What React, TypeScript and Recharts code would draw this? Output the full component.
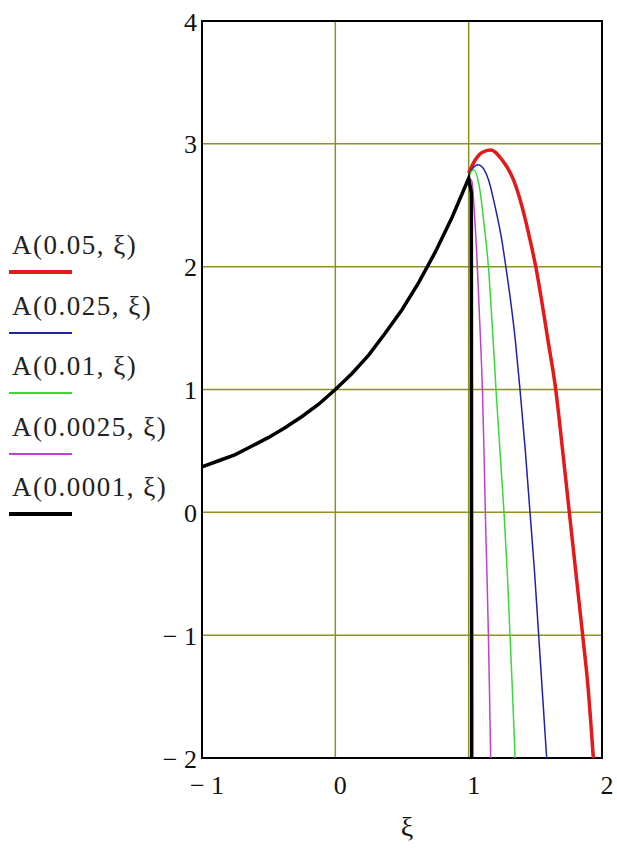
import React from "react";
import {
  LineChart,
  Line,
  XAxis,
  YAxis,
  CartesianGrid,
  ReferenceArea,
  Legend,
} from "recharts";

// Mathcad-style plot of A(eps, xi) for several eps values

const X_TICKS = [-1, 0, 1, 2];
const Y_TICKS = [-2, -1, 0, 1, 2, 3, 4];

// eps = 0.0001 (black) – exponential branch up to xi = 1, then a near-vertical drop
const XI_0001 = [
  -1, -0.875, -0.75, -0.625, -0.5, -0.375, -0.25, -0.125, 0, 0.125, 0.25, 0.375,
  0.5, 0.625, 0.75, 0.875, 1.0, 1.02, 1.023,
];
const A_0001 = [
  0.37, 0.42, 0.47, 0.54, 0.61, 0.69, 0.78, 0.88, 1.0, 1.13, 1.28, 1.46, 1.65,
  1.87, 2.12, 2.4, 2.72, 2.6, -2,
];

// eps = 0.05 (red)
const XI_05 = [
  1.0, 1.05, 1.1, 1.165, 1.25, 1.335, 1.4, 1.46, 1.505, 1.545, 1.595, 1.653,
  1.705, 1.755, 1.805, 1.855, 1.895, 1.935,
];
const A_05 = [
  2.76, 2.87, 2.93, 2.95, 2.87, 2.71, 2.49, 2.22, 1.99, 1.74, 1.4, 1.0, 0.5, 0,
  -0.5, -1.0, -1.42, -2,
];

// eps = 0.025 (blue)
const XI_025 = [
  1.0, 1.023, 1.073, 1.148, 1.198, 1.248, 1.28, 1.31, 1.35, 1.385, 1.425, 1.46,
  1.495, 1.525, 1.555, 1.585,
];
const A_025 = [
  2.74, 2.79, 2.83, 2.71, 2.49, 2.22, 1.99, 1.76, 1.4, 1.0, 0.5, 0, -0.5, -1,
  -1.5, -2,
];

// eps = 0.01 (green)
const XI_01 = [
  1.0, 1.035, 1.085, 1.115, 1.148, 1.178, 1.205, 1.235, 1.265, 1.29, 1.31, 1.33,
  1.348,
];
const A_01 = [2.73, 2.79, 2.62, 2.35, 2.0, 1.5, 1.0, 0.5, 0, -0.5, -1, -1.5, -2];

// eps = 0.0025 (magenta)
const XI_0025 = [
  1.0, 1.023, 1.04, 1.055, 1.065, 1.085, 1.103, 1.115, 1.125, 1.137, 1.148,
  1.157, 1.165,
];
const A_0025 = [2.72, 2.7, 2.49, 2.22, 2.0, 1.5, 1.0, 0.5, 0, -0.5, -1, -1.5, -2];

const toPoints = (xs: number[], ys: number[]) =>
  xs.map((xi, i) => ({ xi, a: ys[i] }));

const SERIES = [
  { name: "A(0.05, ξ)", data: toPoints(XI_05, A_05), color: "#e41a1a", width: 3.5, curve: "monotone" },
  { name: "A(0.025, ξ)", data: toPoints(XI_025, A_025), color: "#2222a8", width: 1.5, curve: "monotone" },
  { name: "A(0.01, ξ)", data: toPoints(XI_01, A_01), color: "#3ad83a", width: 1.5, curve: "monotone" },
  { name: "A(0.0025, ξ)", data: toPoints(XI_0025, A_0025), color: "#c040d0", width: 1.5, curve: "monotone" },
  { name: "A(0.0001, ξ)", data: toPoints(XI_0001, A_0001), color: "#000000", width: 3.5, curve: "linear" },
];

const FONT = '"Liberation Serif", "Times New Roman", serif';
const GRID = "#8f8f22";

const fmt = (v: number) => (v < 0 ? `\u2212 ${Math.abs(v)}` : `${v}`);

const XTick = (props: any) => {
  const { x, y, payload } = props;
  return (
    <text
      x={x + 5}
      y={y + 27}
      textAnchor="middle"
      dominantBaseline="central"
      fontFamily={FONT}
      fontSize={26}
      fill="#111"
    >
      {fmt(payload.value)}
    </text>
  );
};

const YTick = (props: any) => {
  const { x, y, payload } = props;
  return (
    <text
      x={x - 5}
      y={y + 1}
      textAnchor="end"
      dominantBaseline="central"
      fontFamily={FONT}
      fontSize={26}
      fill="#111"
    >
      {fmt(payload.value)}
    </text>
  );
};

// legend keeps the plotting order (Recharts would sort it by name)
const LegendBox = () => (
  <div style={{ position: "relative", width: 200, height: 848 }}>
    {SERIES.map((s, i) => {
      const lineY = 272 + i * 60.5;
      const thick = s.width > 2 ? 4 : 2;
      return (
        <React.Fragment key={s.name}>
          <div
            style={{
              position: "absolute",
              left: 12,
              top: lineY - 42,
              fontFamily: FONT,
              fontSize: 27,
              lineHeight: "30px",
              color: "#222",
              whiteSpace: "nowrap",
              letterSpacing: 1.5,
            }}
          >
            {s.name}
          </div>
          <div
            style={{
              position: "absolute",
              left: 9,
              top: lineY - thick / 2,
              width: 63,
              height: thick,
              background: s.color,
            }}
          />
        </React.Fragment>
      );
    })}
  </div>
);

export default function App() {
  return (
    <div style={{ position: "absolute", left: 0, top: 0, background: "#fff" }}>
      <LineChart
        width={617}
        height={848}
        margin={{ top: 21, right: 15, bottom: 10, left: 142 }}
      >
        <CartesianGrid
          stroke={GRID}
          strokeWidth={1.5}
          horizontalValues={Y_TICKS}
          verticalValues={X_TICKS}
        />
        <XAxis
          dataKey="xi"
          type="number"
          domain={[-1, 2]}
          ticks={X_TICKS}
          allowDataOverflow
          axisLine={false}
          tickLine={false}
          tickSize={0}
          tickMargin={0}
          height={80}
          tick={<XTick />}
          label={{
            value: "ξ",
            position: "insideBottom",
            offset: 2,
            dx: 5,
            style: { fontFamily: FONT, fontSize: 28, fill: "#111" },
          }}
        />
        <YAxis
          type="number"
          domain={[-2, 4]}
          ticks={Y_TICKS}
          allowDataOverflow
          axisLine={false}
          tickLine={false}
          tickSize={0}
          tickMargin={0}
          width={60}
          tick={<YTick />}
        />
        <ReferenceArea
          x1={-1}
          x2={2}
          y1={-2}
          y2={4}
          fill="none"
          stroke="#000"
          strokeWidth={2}
        />
        <Legend
          layout="horizontal"
          verticalAlign="middle"
          wrapperStyle={{ left: 0, top: 0, width: 200, height: 848 }}
          content={<LegendBox />}
        />
        {SERIES.map((s) => (
          <Line
            key={s.name}
            name={s.name}
            data={s.data}
            dataKey="a"
            type={s.curve as any}
            stroke={s.color}
            strokeWidth={s.width}
            dot={false}
            activeDot={false}
            isAnimationActive={false}
          />
        ))}
      </LineChart>
    </div>
  );
}
